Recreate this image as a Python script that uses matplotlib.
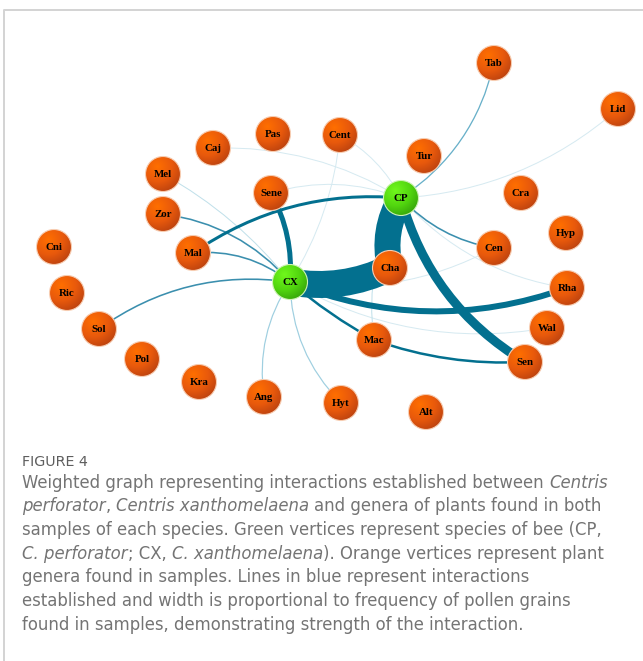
import numpy as np
import matplotlib
matplotlib.use("Agg")
import matplotlib.pyplot as plt
from matplotlib.colors import to_rgb
from matplotlib.patches import Circle, PathPatch
from matplotlib.path import Path

# vertices: bees (green) and plant genera (orange), layout in pixels
bee_names = ["CP", "CX"]
bee_x = [401, 290]
bee_y = [198, 282]

plant_names = ["Tab", "Lid", "Pas", "Cent", "Caj", "Tur", "Mel", "Sene", "Cra",
               "Zor", "Hyp", "Cni", "Mal", "Cen", "Cha", "Rha", "Ric", "Sol",
               "Wal", "Mac", "Pol", "Sen", "Kra", "Ang", "Hyt", "Alt"]
plant_x = [494, 618, 273, 340, 213, 424, 163, 271, 521,
           163, 566, 54, 193, 494, 390, 567, 67, 99,
           547, 374, 142, 525, 199, 264, 341, 426]
plant_y = [63, 109, 134, 135, 148, 156, 174, 193, 193,
           214, 233, 247, 253, 248, 268, 288, 293, 329,
           328, 340, 359, 362, 382, 397, 403, 412]

# interactions: source, target, weight (edge width ~ pollen frequency)
edge_src = ["CX", "CP", "CP", "CX", "CX", "Mal", "Mac", "CX",
            "Sol", "Zor", "Mal", "CP", "CP", "CX", "CX", "Mel",
            "CP", "Cent", "Caj", "Sene", "Cent", "CX", "CX", "CP", "CP"]
edge_dst = ["Cha", "Cha", "Sen", "Rha", "Sene", "CP", "Sen", "Mac",
            "CX", "CX", "CX", "Cen", "Tab", "Ang", "Hyt", "CX",
            "Lid", "CP", "CP", "CP", "CX", "Wal", "Cen", "Rha", "Mac"]
edge_w = [27, 26, 9, 6, 5, 3, 2.5, 2.5,
          1.6, 1.6, 1.6, 1.6, 1.3, 1.2, 1.2, 1.0,
          0.8, 0.8, 0.8, 0.8, 0.8, 0.8, 0.8, 0.8, 1.0]
# curvature of each drawn edge
edge_bend = [0.16, 0.2, 0.2, 0.19, 0.15, -0.18, 0.1, 0.05,
             -0.2, -0.19, -0.2, 0.17, 0.2, 0.19, 0.2, -0.1,
             0.17, -0.15, -0.15, -0.17, -0.12, 0.18, 0.17, 0.18, 0.17]

caption_title = "FIGURE 4"
caption_lines = [
    [("Weighted graph representing interactions established between ", False), ("Centris", True)],
    [("perforator", True), (", ", False), ("Centris xanthomelaena", True),
     (" and genera of plants found in both", False)],
    [("samples of each species. Green vertices represent species of bee (CP,", False)],
    [("C. perforator", True), ("; CX, ", False), ("C. xanthomelaena", True),
     ("). Orange vertices represent plant", False)],
    [("genera found in samples. Lines in blue represent interactions", False)],
    [("established and width is proportional to frequency of pollen grains", False)],
    [("found in samples, demonstrating strength of the interaction.", False)],
]

W, H = 643, 661
PX = 72 / 100  # points per pixel
CAP_X = 22


def edge_color(w):
    if w >= 2.5:
        return "#03708f"
    if w >= 1.5:
        return "#3b8fae"
    if w >= 1.25:
        return "#68b0c9"
    if w >= 1.1:
        return "#9fcfe0"
    if w >= 0.9:
        return "#c0e0ea"
    return "#d6eaf1"


def edge_path(p0, p2, bend):
    p0 = np.asarray(p0, float)
    p2 = np.asarray(p2, float)
    d = p2 - p0
    L = np.hypot(d[0], d[1])
    n = np.array([-d[1], d[0]]) / L
    c = (p0 + p2) / 2 + bend * L * n
    return Path([p0, c, p2], [Path.MOVETO, Path.CURVE3, Path.CURVE3])


def sphere(light, mid, dark, size=64):
    yy, xx = np.mgrid[-1:1:size * 1j, -1:1:size * 1j]
    d = np.clip(np.hypot(xx + 0.35, yy + 0.4) / 1.75, 0, 1)[..., None]
    light, mid, dark = (np.array(to_rgb(c)) for c in (light, mid, dark))
    a = light + (mid - light) * np.clip(d / 0.5, 0, 1)
    b = mid + (dark - mid) * np.clip((d - 0.5) / 0.5, 0, 1)
    return np.where(d < 0.5, a, b)


pos = {}
for n, x, y in zip(bee_names, bee_x, bee_y):
    pos[n] = (x, y)
for n, x, y in zip(plant_names, plant_x, plant_y):
    pos[n] = (x, y)

fig = plt.figure(figsize=(W / 100, H / 100), dpi=100)
ax = fig.add_axes([0, 0, 1, 1])
ax.set_xlim(0, W)
ax.set_ylim(H, 0)
ax.axis("off")

# frame
ax.plot([4, 4, W], [H, 10, 10], color="#d4d4d4", lw=2 * PX, solid_capstyle="butt")

# edges, light ones first
order = np.argsort(edge_w)
for i in order:
    p = edge_path(pos[edge_src[i]], pos[edge_dst[i]], edge_bend[i])
    ax.add_patch(PathPatch(p, facecolor="none", edgecolor=edge_color(edge_w[i]),
                           lw=max(edge_w[i], 1.0) * PX, capstyle="butt", zorder=2))

# vertices
R = 17.5
orange = sphere("#ff6f00", "#e8590c", "#b03c10")
green = sphere("#70f81c", "#52d60f", "#2f9808")
for names, img, ring in [(plant_names, orange, "#f7cdb2"), (bee_names, green, "#cdf2b5")]:
    for n in names:
        x, y = pos[n]
        circ = Circle((x, y), R, transform=ax.transData)
        im = ax.imshow(img, extent=(x - R, x + R, y + R, y - R), origin="upper",
                       interpolation="bilinear", zorder=3)
        im.set_clip_path(circ)
        ax.add_patch(Circle((x, y), R, facecolor="none", edgecolor=ring,
                            lw=0.8, zorder=4))
        ax.text(x, y + 0.5, n, ha="center", va="center", fontsize=7.8,
                family="Liberation Serif", weight="bold", color="black", zorder=5)

ax.set_xlim(0, W)
ax.set_ylim(H, 0)

# caption
renderer = fig.canvas.get_renderer()
cap_kw = dict(family="DejaVu Sans", fontsize=11.9, color="#747474", va="baseline", ha="left")
ax.text(CAP_X, 465.5, caption_title, family="DejaVu Sans", fontsize=10.3, color="#5e5e5e",
        va="baseline", ha="left")


def text_width(s, italic):
    t = ax.text(0, 0, s, style="italic" if italic else "normal", **cap_kw)
    w = t.get_window_extent(renderer).width
    t.remove()
    return w


space_w = text_width("x x", False) - text_width("xx", False)
for k, line in enumerate(caption_lines):
    y = 487.5 + k * 23.7
    x = CAP_X
    for s, italic in line:
        if s.startswith(" "):
            x += space_w
        core = s.strip()
        t = ax.text(x, y, core, style="italic" if italic else "normal", **cap_kw)
        x += t.get_window_extent(renderer).width
        if s.endswith(" "):
            x += space_w

fig.savefig("out.png", dpi=100)
